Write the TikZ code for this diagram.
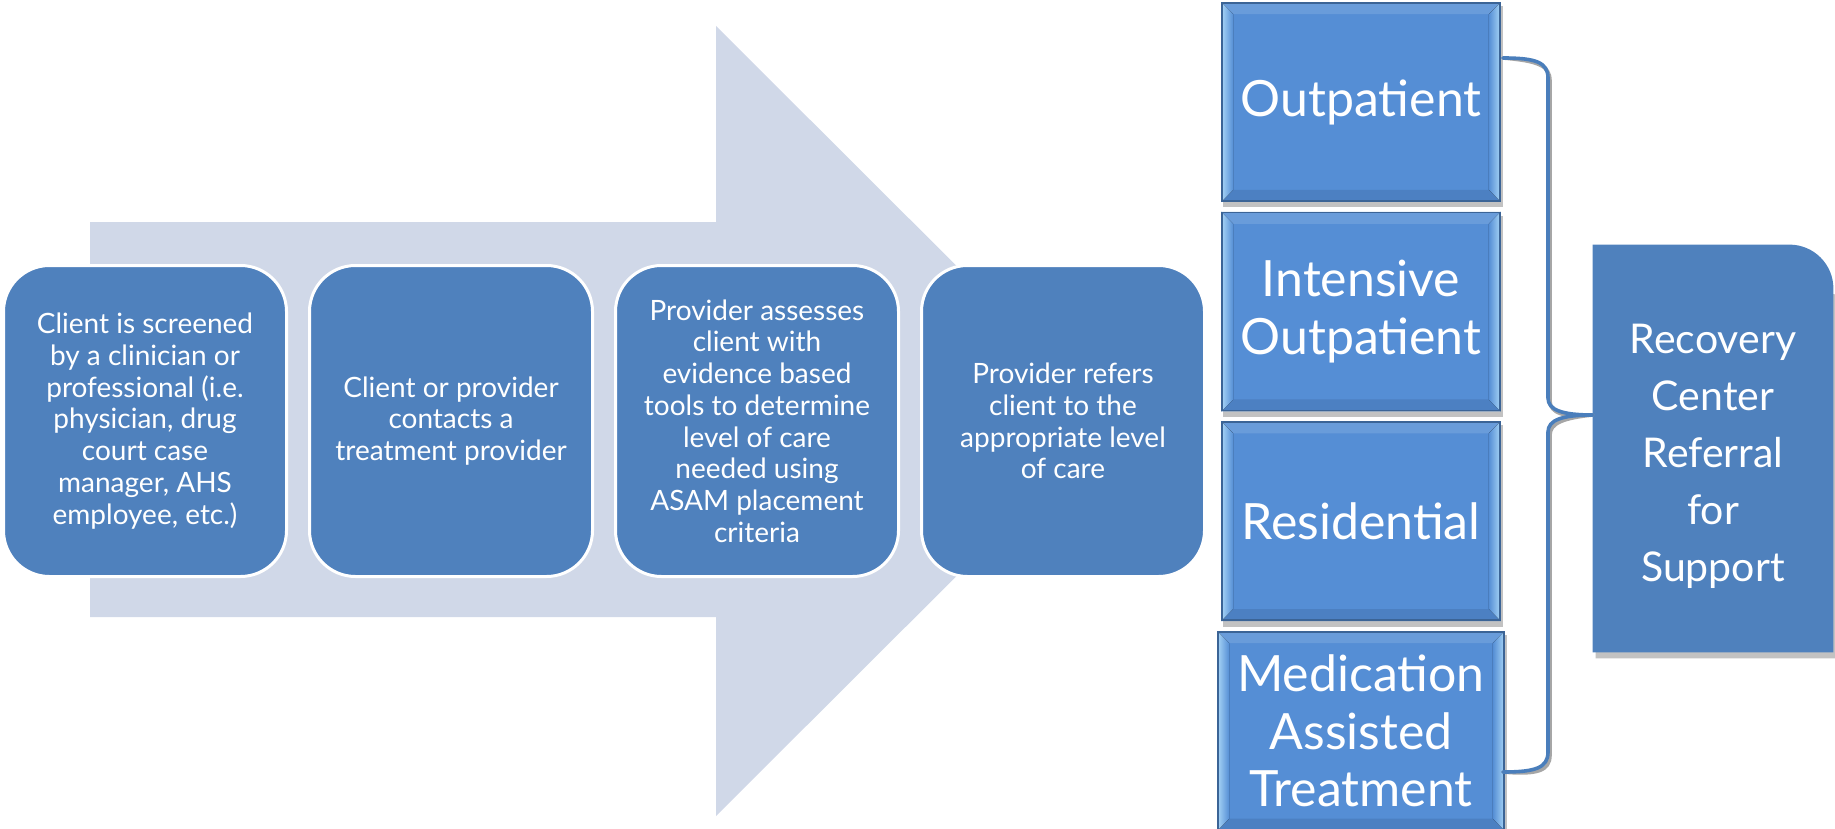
\documentclass[tikz,border=0pt]{standalone}
\usepackage{fontspec}
\setmainfont{Lato}
\usetikzlibrary{calc}
\usetikzlibrary{positioning}
\usetikzlibrary{backgrounds}

\definecolor{flowblue}{HTML}{4F81BD}
\definecolor{arrowgray}{HTML}{D0D8E8}
\definecolor{bevelface}{HTML}{558ED5}
\definecolor{bevelline}{HTML}{3B6496}
\definecolor{bevellight}{HTML}{A8D6F7}
\definecolor{beveldark}{HTML}{4C80C2}
\definecolor{bracecol}{HTML}{4A7EBB}

\tikzset{
  stepbox/.style={draw=white, line width=1.5pt, fill=flowblue, rounded corners=23pt,
    minimum width=141.5pt, minimum height=155.5pt, inner sep=0pt, text=white,
    align=center, font={\fontsize{14pt}{15.85pt}\selectfont}},
  carebox/.style={draw=bevelline, line width=0.8pt, minimum width=139pt,
    minimum height=99pt, inner sep=0pt, text=white, align=center,
    font={\fontsize{25pt}{28.8pt}\selectfont}},
  recbox/.style={minimum width=120pt, minimum height=203.5pt, inner sep=0pt},
  rectext/.style={text=white, align=center, font={\fontsize{20.5pt}{28.5pt}\selectfont}},
  brace/.style={draw=bracecol, line width=1.8pt, line cap=round, line join=round}
}

\begin{document}
\begin{tikzpicture}[x=0.5pt, y=-0.5pt]
        \useasboundingbox (0,0) rectangle (1835,829);
        % Big background arrow
        \fill[arrowgray] (90,222) -- (716,222) -- (716,26) -- (1112,421)
            -- (716,816) -- (716,617) -- (90,617) -- cycle;
        % Process steps
        \node[stepbox] (screen) at (145,421) {Client is screened\\by a clinician or\\professional (i.e.\\physician, drug\\court case\\manager, AHS\\employee, etc.)};
        \node[stepbox, right=10pt of screen] (contact) {Client or provider\\contacts a\\treatment provider};
        \node[stepbox, right=10pt of contact] (assess) {Provider assesses\\client with\\evidence based\\tools to determine\\level of care\\needed using\\ASAM placement\\criteria};
        \node[stepbox, right=10pt of assess] (refer) {Provider refers\\client to the\\appropriate level\\of care};
        % Levels of care
        \node[carebox] (outp) at (1361,102) {Outpatient};
        \node[carebox, below=5pt of outp] (intens) {Intensive\\Outpatient};
        \node[carebox, below=5pt of intens] (resid) {Residential};
        \node[carebox, minimum width=143pt, below=5pt of resid] (mat) {Medication\\Assisted\\Treatment};
        % Recovery support
        \node[recbox] (recov) at (1713,448.5) {};
        \node[rectext] (rectxt) at ($(recov.center)+(0,-4pt)$) {Recovery\\Center\\Referral\\for\\Support};
        \begin{scope}[on background layer]
            \foreach \b in {outp,intens,resid,mat} {
                \fill[black!40, opacity=0.6] ($(\b.north west)+(1pt,-2pt)$) rectangle ($(\b.south east)+(1.2pt,-2.8pt)$);
                \fill[bevelface] (\b.north west) rectangle (\b.south east);
                \fill[bevelface!88!white] (\b.north west) -- (\b.north east) -- ($(\b.north east)+(-6pt,-6pt)$) -- ($(\b.north west)+(6pt,-6pt)$) -- cycle;
                \fill[beveldark] (\b.south west) -- (\b.south east) -- ($(\b.south east)+(-6pt,6pt)$) -- ($(\b.south west)+(6pt,6pt)$) -- cycle;
                \fill[left color=bevellight, right color=bevelface] (\b.north west) -- ($(\b.north west)+(6pt,-6pt)$) -- ($(\b.south west)+(6pt,6pt)$) -- (\b.south west) -- cycle;
                \fill[left color=bevelface, right color=bevellight] (\b.north east) -- ($(\b.north east)+(-6pt,-6pt)$) -- ($(\b.south east)+(-6pt,6pt)$) -- (\b.south east) -- cycle;
            }
            \fill[black!40, opacity=0.6] ($(recov.north west)+(1.5pt,-3pt)$) -- ($(recov.north east)+(1.5pt,-25pt)$) -- ($(recov.south east)+(1.5pt,-3pt)$) -- ($(recov.south west)+(1.5pt,-3pt)$) -- cycle;
            \fill[flowblue] (recov.south west) -- (recov.north west) -- ($(recov.north east)+(-22pt,0)$)
                arc[start angle=90, end angle=0, radius=22pt] -- (recov.south east) -- cycle;
        \end{scope}
        % Bracket into the recovery box
        \coordinate (bractop) at (1503,58);
        \coordinate (bracbot) at (1503,772);
        \coordinate (bractip) at ($(recov.west)+(0,16.75pt)$);
        \draw[brace, draw=black!35, shift={(1pt,-1.5pt)}] (bractop) .. controls (1535,58) and (1548,62) .. (1548,78)
            -- (1548,398) .. controls (1548,410) and (1562,415) .. (bractip)
            .. controls (1562,415) and (1548,420) .. (1548,432)
            -- (1548,752) .. controls (1548,768) and (1535,772) .. (bracbot);
        \draw[brace] (bractop) .. controls (1535,58) and (1548,62) .. (1548,78)
            -- (1548,398) .. controls (1548,410) and (1562,415) .. (bractip)
            .. controls (1562,415) and (1548,420) .. (1548,432)
            -- (1548,752) .. controls (1548,768) and (1535,772) .. (bracbot);
\end{tikzpicture}
\end{document}
